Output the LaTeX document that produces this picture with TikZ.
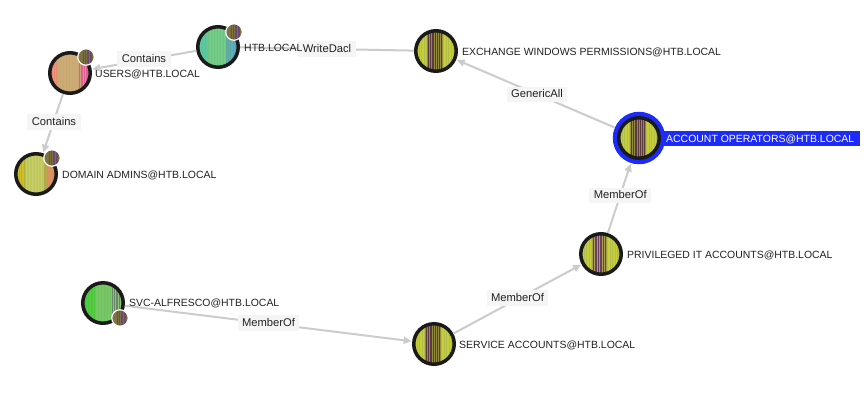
\documentclass[tikz,border=0pt]{standalone}
\usepackage{fontspec}
\setmainfont{Liberation Sans}
\usetikzlibrary{arrows.meta}
\definecolor{ringc}{HTML}{1A1A1A}
\definecolor{edgec}{HTML}{CCCCCC}
\definecolor{labbg}{HTML}{F5F5F5}
\definecolor{txtc}{HTML}{222222}
\definecolor{hl}{HTML}{1C2BFA}
\definecolor{yga}{HTML}{C6CF3A}
\definecolor{ygb}{HTML}{B2BE48}
\definecolor{brna}{HTML}{5A3A3C}
\definecolor{brnb}{HTML}{948C40}
\definecolor{ola}{HTML}{7C7040}
\definecolor{olb}{HTML}{6A4A70}
\definecolor{olc}{HTML}{6E7A50}
\definecolor{ta}{HTML}{5DC8A0}
\definecolor{tb}{HTML}{55C39A}
\definecolor{tc}{HTML}{74CC88}
\definecolor{td}{HTML}{6CC482}
\definecolor{te}{HTML}{5FAFC0}
\definecolor{tf}{HTML}{5BA59F}
\definecolor{ua}{HTML}{E68A70}
\definecolor{ub}{HTML}{D9A070}
\definecolor{uc}{HTML}{CDAB72}
\definecolor{ud}{HTML}{C4A878}
\definecolor{ue}{HTML}{DE5F94}
\definecolor{uf}{HTML}{C9A078}
\definecolor{da}{HTML}{CCC02A}
\definecolor{db}{HTML}{B8B030}
\definecolor{dc}{HTML}{BFC85A}
\definecolor{dd}{HTML}{C8CC70}
\definecolor{de}{HTML}{D89060}
\definecolor{df}{HTML}{B8A850}
\definecolor{sa}{HTML}{4CC83C}
\definecolor{sb}{HTML}{5CC84C}
\definecolor{sc}{HTML}{78C868}
\definecolor{sd}{HTML}{70C060}
\definecolor{se}{HTML}{688868}
\definecolor{sf}{HTML}{90C080}
\definecolor{pa}{HTML}{A8A050}
\definecolor{pb}{HTML}{6A3F5F}
% one striped section: from x, to x, base colour, stripe colour, pitch
\newcommand{\stripeband}[5]{%
  \fill[#3] ([xshift=#1pt]path picture bounding box.center) ++(0pt,-30pt) rectangle ++(#2pt-#1pt,60pt);
  \pgfmathsetmacro{\nn}{int((#2-(#1))/#5)}%
  \foreach \ii in {0,...,\nn}{%
    \pgfmathsetmacro{\xo}{#1+\ii*#5}%
    \ifdim \xo pt<#2pt
    \fill[#4] ([xshift=\xo pt]path picture bounding box.center) ++(0pt,-30pt) rectangle ++(0.45*#5pt,60pt);
    \fi
  }%
}
\tikzset{
  x=1pt,y=-1pt,
  pie/.style={circle,inner sep=0pt,minimum size=40.5pt,draw=ringc,line width=3.5pt},
  badge/.style={circle,inner sep=0pt,minimum size=16.5pt,draw=white,line width=1.2pt},
  ytri/.style={path picture={
    \stripeband{-22}{-9}{yga}{ygb}{2.4}
    \stripeband{-9}{7}{brna}{brnb}{2.2}
    \stripeband{7}{22}{yga}{ygb}{2.6}}},
  minib/.style={path picture={
    \stripeband{-11}{-4}{ola}{olc}{2}
    \stripeband{-4}{5}{olb}{ola}{2.2}
    \stripeband{5}{11}{ola}{olb}{2}}},
  lab/.style={anchor=west,inner sep=0pt,font=\fontsize{10.46}{12}\selectfont,text=txtc},
  conn/.style={draw=edgec,line width=2pt,-{Triangle[length=8pt,width=7pt]},shorten >=0.5pt},
  elab/.style={fill=labbg,inner xsep=4.5pt,inner ysep=2.7pt,text height=8.2pt,text depth=2pt,font=\fontsize{11.2}{12}\selectfont,text=txtc},
}
\begin{document}
\begin{tikzpicture}
\useasboundingbox (0,0) rectangle (864,400);
\fill[white] (0,0) rectangle (864,400);
% highlight
\node[circle,fill=hl,minimum size=52.5pt,inner sep=0pt] (halo) at (639,138) {};
% pies
\node[pie,path picture={
  \stripeband{-22}{-10}{ta}{tb}{3}
  \stripeband{-10}{8}{tc}{td}{3}
  \stripeband{8}{22}{te}{tf}{2.2}}] (htb) at (218,47) {};
\node[pie,path picture={
  \stripeband{-22}{-13}{ua}{ub}{2.4}
  \stripeband{-13}{8}{uc}{ud}{3}
  \stripeband{8}{22}{ue}{uf}{2.4}}] (users) at (70,73) {};
\node[pie,path picture={
  \stripeband{-22}{-10}{da}{db}{2.4}
  \stripeband{-10}{8}{dc}{dd}{3}
  \stripeband{8}{22}{de}{df}{2.4}}] (dom) at (36,174) {};
\node[pie,path picture={
  \stripeband{-22}{-8}{sa}{sb}{3}
  \stripeband{-8}{8}{sc}{sd}{3}
  \stripeband{8}{22}{se}{sf}{2.2}}] (svc) at (103,303) {};
\node[pie,ytri] (serv) at (434,344) {};
\node[pie,path picture={
  \stripeband{-22}{-9}{yga}{ygb}{2.4}
  \stripeband{-9}{6}{pb}{pa}{2.4}
  \stripeband{6}{22}{yga}{ygb}{2.6}}] (priv) at (601,254) {};
\node[pie,ytri] (acct) at (639,138) {};
\node[pie,ytri] (exch) at (436,51) {};
% connectors
\draw[conn] (halo) -- node[elab,pos=0.49] {GenericAll} (exch);
\draw[conn] (priv) -- node[elab,pos=0.54] {MemberOf} (halo);
\draw[conn] (serv) -- node[elab,pos=0.5,yshift=1pt] {MemberOf} (priv);
\draw[conn] (svc) -- node[elab,pos=0.5,yshift=0.5pt] {MemberOf} (serv);
\draw[conn] (users) -- node[elab,pos=0.45,yshift=-1.5pt] {Contains} (dom);
\draw[conn] (htb) -- node[elab,pos=0.5,yshift=1pt] {Contains} (users);
\draw[draw=edgec,line width=2pt] (htb) -- node[elab,pos=0.5] (wd) {WriteDacl} (exch);
% badges
\node[badge,minib] (ba) at (234,32) {};
\node[badge,minib] (bb) at (86,57) {};
\node[badge,minib] (bc) at (52,158) {};
\node[badge,minib] (bd) at (120,318) {};
% labels
\fill[hl] (661,131) rectangle (860,146);
\node[lab] (la) at (244,48) {HTB.LOCAL};
\node[lab] (lb) at (95,74.5) {USERS@HTB.LOCAL};
\node[lab] (lc) at (62,175.5) {DOMAIN ADMINS@HTB.LOCAL};
\node[lab] (ld) at (129,303.5) {SVC-ALFRESCO@HTB.LOCAL};
\node[lab] (le) at (459,345.5) {SERVICE ACCOUNTS@HTB.LOCAL};
\node[lab] (lf) at (627,255.5) {PRIVILEGED IT ACCOUNTS@HTB.LOCAL};
\node[lab,text=white] (lg) at (666,139) {ACCOUNT OPERATORS@HTB.LOCAL};
\node[lab] (lh) at (462,52.5) {EXCHANGE WINDOWS PERMISSIONS@HTB.LOCAL};
\end{tikzpicture}
\end{document}
